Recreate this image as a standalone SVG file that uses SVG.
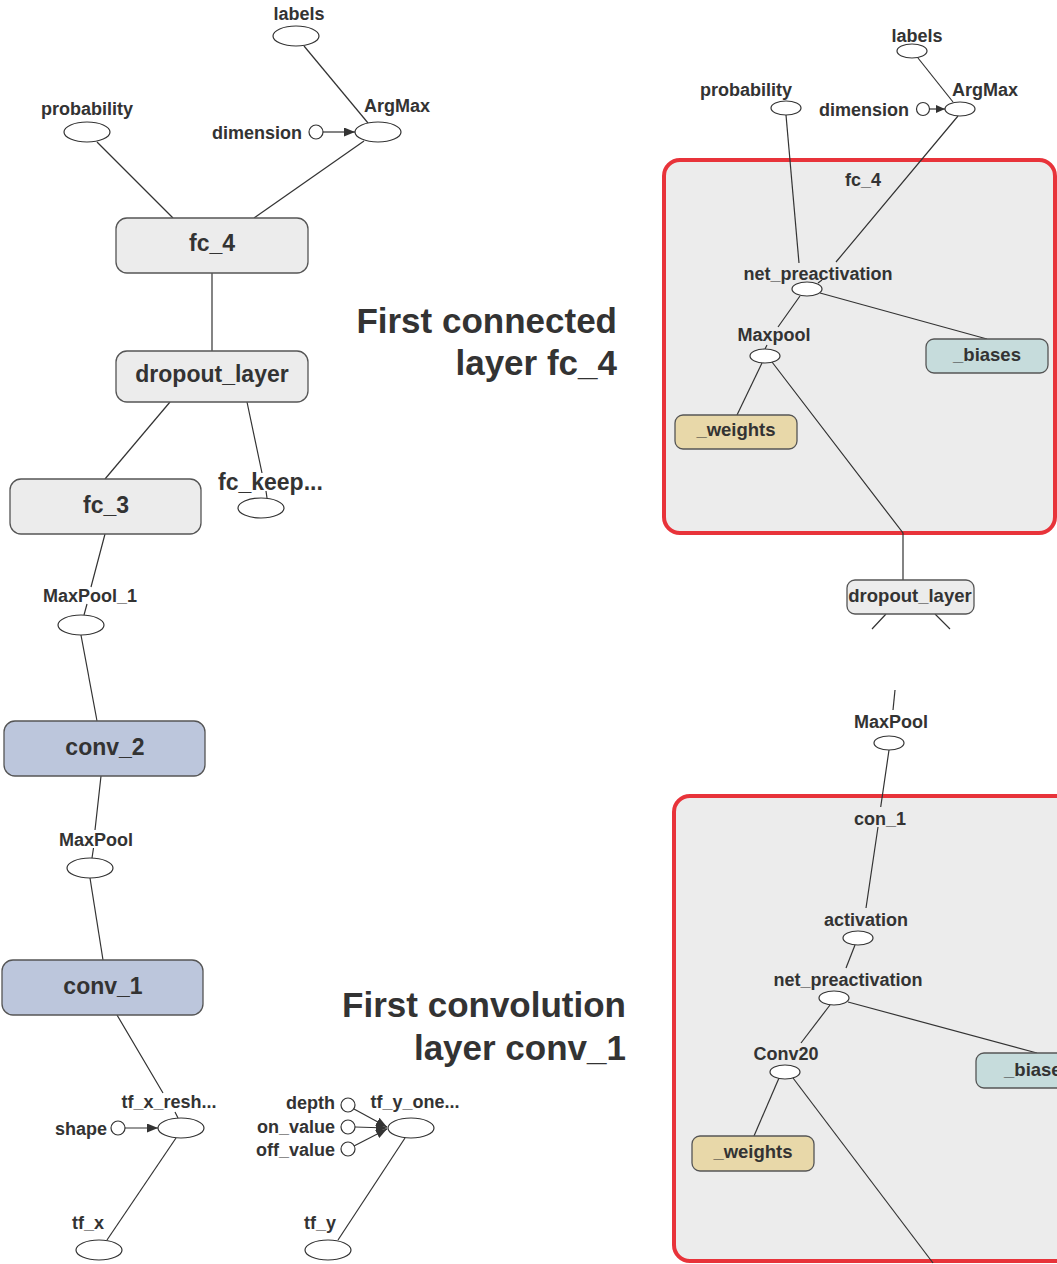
<svg xmlns="http://www.w3.org/2000/svg" width="1057" height="1264" viewBox="0 0 1057 1264">
<style>
text{font-family:"Liberation Sans",Arial,sans-serif;font-weight:bold;fill:#333}
.s{font-size:18px}
.b{font-size:23px}
.t{font-size:35px}
.m{font-size:18.5px}
.c{text-anchor:middle}
.r{text-anchor:end}
.e{fill:#fff;stroke:#333;stroke-width:1.2}
.box{fill:#ececec;stroke:#555;stroke-width:1.3}
.blue{fill:#bcc6dc;stroke:#555;stroke-width:1.3}
.bias{fill:#c6dcdc;stroke:#555;stroke-width:1.3}
.wt{fill:#e8d8a9;stroke:#555;stroke-width:1.3}
.red{fill:#ececec;stroke:#e8333a;stroke-width:4}
#edges path{fill:none;stroke:#333;stroke-width:1.2}
</style>
<defs>
<marker id="ah" markerUnits="userSpaceOnUse" markerWidth="11" markerHeight="9" refX="11" refY="4.5" orient="auto"><path d="M0,0 L11,4.5 L0,9 z" fill="#333"/></marker>
<marker id="ahs" markerUnits="userSpaceOnUse" markerWidth="9" markerHeight="8" refX="9" refY="4" orient="auto"><path d="M0,0 L9,4 L0,8 z" fill="#333"/></marker>
</defs>
<rect width="1057" height="1264" fill="#fff"/>
<g id="cluster-fc4"><rect class="red" x="664" y="160" width="391" height="373" rx="16"/><text class="s c" x="863" y="186">fc_4</text></g>
<g id="cluster-conv1"><rect class="red" x="674" y="796" width="420" height="465" rx="16"/><text class="s c" x="880" y="825">con_1</text></g>
<g id="edges">
<path d="M304,46 L368,123"/>
<path d="M97,142 L173,218"/>
<path d="M364,141 L254,218"/>
<path d="M212,273 L212,351"/>
<path d="M170,402 L105,479"/>
<path d="M247,402 L262,473 M266,491 L267,498"/>
<path d="M105,534 L91,587 M87,604 L84,615"/>
<path d="M81,635 L97,721"/>
<path d="M101,776 L95,830 M93.5,848 L92,858"/>
<path d="M90,878 L103,960"/>
<path d="M117,1015 L163,1093 M175,1112 L178,1118"/>
<path d="M176,1138 L107,1240"/>
<path d="M405,1138 L338,1240"/>
<path d="M323,132 L355,132" marker-end="url(#ah)"/>
<path d="M125,1128 L158,1128" marker-end="url(#ah)"/>
<path d="M354,1109 L387,1127" marker-end="url(#ah)"/>
<path d="M355,1127 L387,1128" marker-end="url(#ah)"/>
<path d="M354,1146 L387,1129" marker-end="url(#ah)"/>
<path d="M918,58 L953,102"/>
<path d="M929.5,109 L945,109" marker-end="url(#ahs)"/>
<path d="M786,115 L799,263"/>
<path d="M958,116 L836,262 M822,280 L818,283"/>
<path d="M800,296 L778,327 M767,345 L765,349"/>
<path d="M820,293 L987,339"/>
<path d="M762,363 L737,415"/>
<path d="M772,362 L903,533 L903,580"/>
<path d="M886,614 L872,629 M935,614 L950,629"/>
<path d="M895,690 L893,710"/>
<path d="M889,750 L880.7,807 M878,827 L866,908"/>
<path d="M855,945 L846,968"/>
<path d="M830,1005 L801,1043"/>
<path d="M848,1002 L1037,1053"/>
<path d="M779,1078 L754,1136"/>
<path d="M793,1078 L933,1263"/>
</g>
<g id="labels-l"><text class="s c" x="299" y="20">labels</text><ellipse class="e" cx="296" cy="36" rx="23" ry="10"/></g>
<g id="probability-l"><text class="s c" x="87" y="115">probability</text><ellipse class="e" cx="87" cy="132" rx="23" ry="10"/></g>
<g id="dimension-l"><text class="s r" x="302" y="139">dimension</text><circle class="e" cx="316" cy="132" r="7"/></g>
<g id="argmax-l"><text class="s c" x="397" y="112">ArgMax</text><ellipse class="e" cx="378" cy="132" rx="23" ry="10"/></g>
<g id="fc4-l"><rect class="box" x="116" y="218" width="192" height="55" rx="11"/><text class="b c" x="212" y="251">fc_4</text></g>
<g id="dropout-l"><rect class="box" x="116" y="351" width="192" height="51" rx="11"/><text class="b c" x="212" y="382">dropout_layer</text></g>
<g id="fckeep-l"><text class="b" x="218" y="490">fc_keep...</text><ellipse class="e" cx="261" cy="508" rx="23" ry="10"/></g>
<g id="fc3-l"><rect class="box" x="10" y="479" width="191" height="55" rx="11"/><text class="b c" x="106" y="513">fc_3</text></g>
<g id="maxpool1-l"><text class="s c" x="90" y="602">MaxPool_1</text><ellipse class="e" cx="81" cy="625" rx="23" ry="10"/></g>
<g id="conv2-l"><rect class="blue" x="4" y="721" width="201" height="55" rx="11"/><text class="b c" x="105" y="755">conv_2</text></g>
<g id="maxpool-l"><text class="s c" x="96" y="846">MaxPool</text><ellipse class="e" cx="90" cy="868" rx="23" ry="10"/></g>
<g id="conv1-l"><rect class="blue" x="2" y="960" width="201" height="55" rx="11"/><text class="b c" x="103" y="994">conv_1</text></g>
<g id="tfxresh"><text class="s c" x="169" y="1108">tf_x_resh...</text><ellipse class="e" cx="181" cy="1128" rx="23" ry="10"/></g>
<g id="shape"><text class="s r" x="107" y="1135">shape</text><circle class="e" cx="118" cy="1128" r="7"/></g>
<g id="tfx"><text class="s c" x="88" y="1229">tf_x</text><ellipse class="e" cx="99" cy="1250" rx="23" ry="10"/></g>
<g id="depth"><text class="s r" x="335" y="1109">depth</text><circle class="e" cx="348" cy="1105" r="7"/></g>
<g id="onvalue"><text class="s r" x="335" y="1133">on_value</text><circle class="e" cx="348" cy="1127" r="7"/></g>
<g id="offvalue"><text class="s r" x="335" y="1156">off_value</text><circle class="e" cx="348" cy="1149" r="7"/></g>
<g id="tfyone"><text class="s c" x="415" y="1108">tf_y_one...</text><ellipse class="e" cx="411" cy="1128" rx="23" ry="10"/></g>
<g id="tfy"><text class="s c" x="320" y="1229">tf_y</text><ellipse class="e" cx="328" cy="1250" rx="23" ry="10"/></g>
<g id="caption-fc4"><text class="t r" x="617" y="333">First connected</text><text class="t r" x="617" y="375">layer fc_4</text></g>
<g id="caption-conv1"><text class="t r" x="626" y="1017">First convolution</text><text class="t r" x="626" y="1060">layer conv_1</text></g>
<g id="labels-r"><text class="s c" x="917" y="42">labels</text><ellipse class="e" cx="912" cy="51" rx="15" ry="7"/></g>
<g id="probability-r"><text class="s c" x="746" y="96">probability</text><ellipse class="e" cx="786" cy="108" rx="15" ry="7"/></g>
<g id="dimension-r"><text class="s r" x="909" y="116">dimension</text><circle class="e" cx="923" cy="109" r="6.5"/></g>
<g id="argmax-r"><text class="s c" x="985" y="96">ArgMax</text><ellipse class="e" cx="960" cy="109" rx="15" ry="7"/></g>
<g id="netpre-r1"><text class="s c" x="818" y="280">net_preactivation</text><ellipse class="e" cx="807" cy="289" rx="15" ry="7"/></g>
<g id="maxpool-r1"><text class="s c" x="774" y="341">Maxpool</text><ellipse class="e" cx="765" cy="356" rx="15" ry="7"/></g>
<g id="biases-r1"><rect class="bias" x="926" y="339" width="122" height="34" rx="8"/><text class="m c" x="987" y="361">_biases</text></g>
<g id="weights-r1"><rect class="wt" x="675" y="415" width="122" height="34" rx="8"/><text class="m c" x="736" y="436">_weights</text></g>
<g id="dropout-r"><rect class="box" x="847" y="580" width="127" height="34" rx="8"/><text class="m c" x="910" y="602">dropout_layer</text></g>
<g id="maxpool-r2"><text class="s c" x="891" y="728">MaxPool</text><ellipse class="e" cx="889" cy="743" rx="15" ry="7"/></g>
<g id="activation-r"><text class="s c" x="866" y="926">activation</text><ellipse class="e" cx="858" cy="938" rx="15" ry="7"/></g>
<g id="netpre-r2"><text class="s c" x="848" y="986">net_preactivation</text><ellipse class="e" cx="834" cy="998" rx="15" ry="7"/></g>
<g id="conv20-r"><text class="s c" x="786" y="1060">Conv20</text><ellipse class="e" cx="785" cy="1072" rx="15" ry="7"/></g>
<g id="biases-r2"><rect class="bias" x="976" y="1053" width="122" height="35" rx="8"/><text class="m c" x="1038" y="1076">_biases</text></g>
<g id="weights-r2"><rect class="wt" x="692" y="1136" width="122" height="35" rx="8"/><text class="m c" x="753" y="1158">_weights</text></g>
</svg>
